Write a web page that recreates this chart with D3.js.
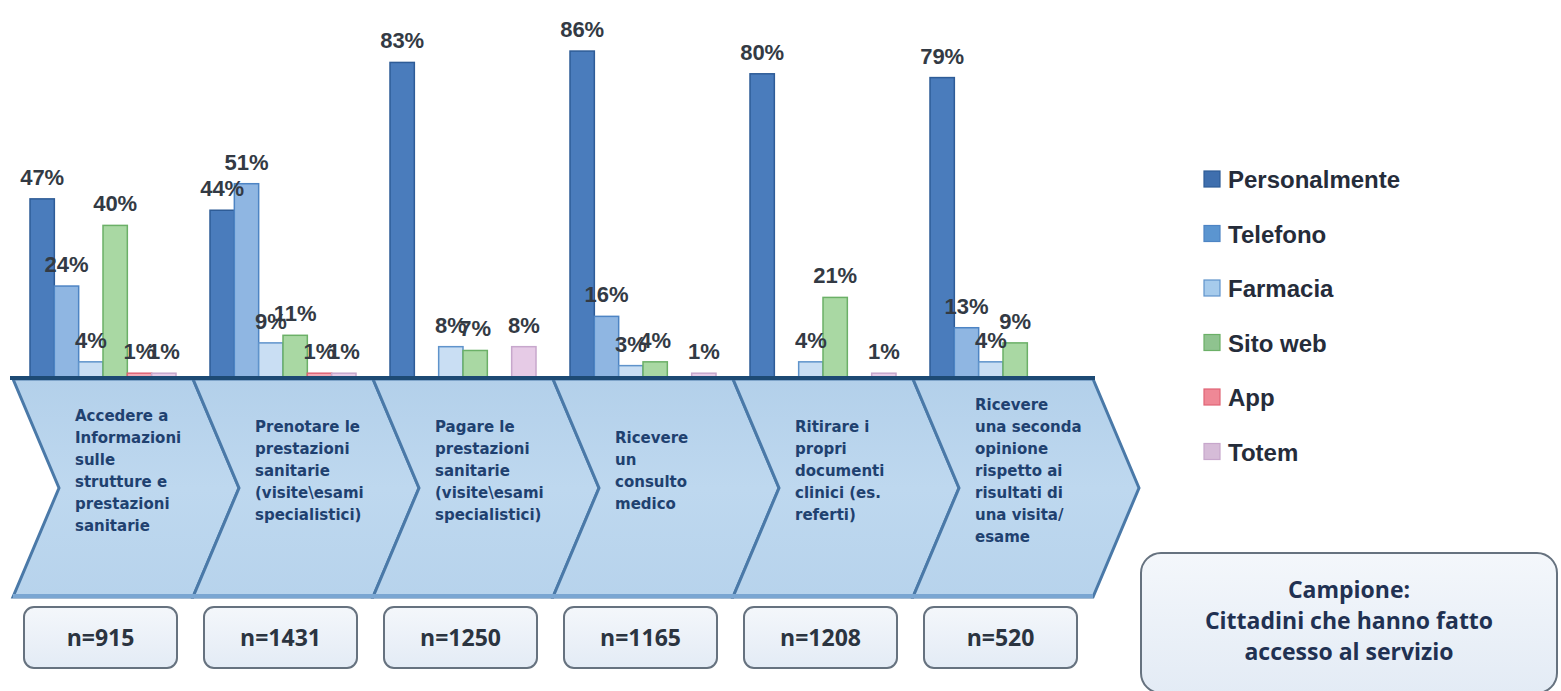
<!DOCTYPE html>
<html><head><meta charset="utf-8">
<script src="https://cdn.jsdelivr.net/npm/d3@7"></script>
<style>html,body{margin:0;padding:0;background:#fff;}svg{display:block;}</style>
</head><body>
<svg id="chart" width="1561" height="691"></svg>
<script>
// ---- data ----
const categories = ["Informazioni", "Prenotare", "Pagare", "Consulto", "Documenti", "Seconda opinione"];
const categoryLines = [
  ["Accedere a", "Informazioni", "sulle", "strutture e", "prestazioni", "sanitarie"],
  ["Prenotare le", "prestazioni", "sanitarie", "(visite\\esami", "specialistici)"],
  ["Pagare le", "prestazioni", "sanitarie", "(visite\\esami", "specialistici)"],
  ["Ricevere", "un", "consulto", "medico"],
  ["Ritirare i", "propri", "documenti", "clinici (es.", "referti)"],
  ["Ricevere", "una seconda", "opinione", "rispetto ai", "risultati di", "una visita/", "esame"]
];
const sampleSizes = ["n=915", "n=1431", "n=1250", "n=1165", "n=1208", "n=520"];
const seriesNames = ["Personalmente", "Telefono", "Farmacia", "Sito web", "App", "Totem"];
const personalmente = [47, 44, 83, 86, 80, 79];
const telefono      = [24, 51, null, 16, null, 13];
const farmacia      = [4, 9, 8, 3, 4, 4];
const sitoWeb       = [40, 11, 7, 4, 21, 9];
const app           = [1, 1, null, null, null, null];
const totem         = [1, 1, 8, 1, 1, null];
const campioneLines = ["Campione:", "Cittadini che hanno fatto", "accesso al servizio"];

const seriesValues = [personalmente, telefono, farmacia, sitoWeb, app, totem];
const fills   = ["#4a7cbc", "#8fb6e2", "#c9def3", "#a9d8a3", "#f3a9b4", "#e6cbe6"];
const strokes = ["#2e5c97", "#4d84c4", "#5f93cb", "#6bb067", "#e06476", "#c7a7cc"];
const legendFills = ["#3f6fae", "#5b95d0", "#a6cbec", "#8fc38f", "#ef8896", "#d6bcd8"];

// ---- layout ----
const svg = d3.select("#chart");
svg.append("rect").attr("width", 1561).attr("height", 691).attr("fill", "#ffffff");

const x0 = d3.scaleBand().domain(categories).range([30, 30 + 180 * 6]).padding(0);
const x1 = d3.scaleBand().domain(seriesNames).range([0, 146]).padding(0);
const y = d3.scaleLinear().domain([0, 100]).range([377, -2]);

const chevTop = 379, chevBot = 597, chevMid = (chevTop + chevBot) / 2, depth = 46;
const chevX = d3.scaleBand().domain(categories).range([13, 13 + 180 * 6]).padding(0);

const defs = svg.append("defs");
const grad = defs.append("linearGradient").attr("id", "chevGrad").attr("x1", 0).attr("y1", 0).attr("x2", 0).attr("y2", 1);
grad.append("stop").attr("offset", "0%").attr("stop-color", "#b3d0ea");
grad.append("stop").attr("offset", "50%").attr("stop-color", "#bed8ef");
grad.append("stop").attr("offset", "100%").attr("stop-color", "#b7d3ec");

const boxGrad = defs.append("linearGradient").attr("id", "boxGrad").attr("x1", 0).attr("y1", 0).attr("x2", 0).attr("y2", 1);
boxGrad.append("stop").attr("offset", "0%").attr("stop-color", "#f4f7fb");
boxGrad.append("stop").attr("offset", "100%").attr("stop-color", "#e3ebf5");

const chevG = svg.append("g");
categories.forEach((c, i) => {
  const L = chevX(c), W = chevX.bandwidth();
  const pts = [[L, chevTop], [L + W, chevTop], [L + W + depth, chevMid], [L + W, chevBot], [L, chevBot], [L + depth, chevMid]];
  chevG.append("path")
    .attr("d", "M" + pts.map(p => p.join(",")).join("L") + "Z")
    .attr("fill", "url(#chevGrad)")
    .attr("stroke", "#4a79a8").attr("stroke-width", 3).attr("stroke-linejoin", "miter");
});
chevG.append("line").attr("x1", 13).attr("x2", 13 + 180 * 6).attr("y1", chevBot - 1).attr("y2", chevBot - 1)
  .attr("stroke", "#7aa6d2").attr("stroke-width", 4);

// chevron texts, vertically centred on the band
categories.forEach((c, i) => {
  const L = chevX(c);
  const lines = categoryLines[i];
  const lh = 22;
  const centre = 471;
  const startY = centre - (lines.length - 1) * lh / 2;
  const t = chevG.append("text")
    .attr("font-family", "DejaVu Sans, Verdana, sans-serif")
    .attr("font-weight", "bold")
    .attr("font-size", 15)
    .attr("fill", "#1f4170");
  lines.forEach((ln, j) => {
    t.append("tspan").attr("x", L + 62).attr("y", startY + j * lh + 5).text(ln);
  });
});

// bars
const barG = svg.append("g");
seriesNames.forEach((s, si) => {
  const vals = seriesValues[si];
  categories.forEach((c, ci) => {
    const v = vals[ci];
    if (v === null) return;
    barG.append("rect")
      .attr("x", x0(c) + x1(s))
      .attr("y", y(v))
      .attr("width", x1.bandwidth())
      .attr("height", y(0) - y(v))
      .attr("fill", fills[si])
      .attr("stroke", strokes[si])
      .attr("stroke-width", 1.5);
  });
});
// value labels
seriesNames.forEach((s, si) => {
  const vals = seriesValues[si];
  categories.forEach((c, ci) => {
    const v = vals[ci];
    if (v === null) return;
    barG.append("text")
      .attr("x", x0(c) + x1(s) + x1.bandwidth() / 2)
      .attr("y", y(v) - 14)
      .attr("text-anchor", "middle")
      .attr("font-family", "Liberation Sans, Arial, sans-serif")
      .attr("font-weight", "bold")
      .attr("font-size", 22)
      .attr("fill", "#333a44")
      .text(v + "%");
  });
});

// baseline
svg.append("line").attr("x1", 10).attr("x2", 1095).attr("y1", y(0) + 1).attr("y2", y(0) + 1)
  .attr("stroke", "#1d4a74").attr("stroke-width", 4);

// sample size boxes
categories.forEach((c, i) => {
  const L = chevX(c);
  svg.append("rect").attr("x", L + 11).attr("y", 607).attr("width", 153).attr("height", 61).attr("rx", 10)
    .attr("fill", "url(#boxGrad)").attr("stroke", "#66727f").attr("stroke-width", 2);
  svg.append("text").attr("x", L + 11 + 76.5).attr("y", 646).attr("text-anchor", "middle")
    .attr("font-family", "Open Sans, sans-serif").attr("font-weight", "bold").attr("font-size", 23)
    .attr("fill", "#2b3440").text(sampleSizes[i]);
});

// campione box
svg.append("rect").attr("x", 1141).attr("y", 553).attr("width", 416).attr("height", 140).attr("rx", 20)
  .attr("fill", "url(#boxGrad)").attr("stroke", "#66727f").attr("stroke-width", 2);
const ct = svg.append("text").attr("text-anchor", "middle")
  .attr("font-family", "Open Sans, sans-serif").attr("font-weight", "bold").attr("font-size", 23)
  .attr("fill", "#213152");
campioneLines.forEach((ln, j) => {
  ct.append("tspan").attr("x", 1349).attr("y", 598 + j * 31).text(ln);
});

// legend
const lg = svg.append("g");
seriesNames.forEach((s, i) => {
  const ly = 180 + i * 54.5;
  lg.append("rect").attr("x", 1204).attr("y", ly - 9).attr("width", 16).attr("height", 16)
    .attr("fill", legendFills[i]).attr("stroke", strokes[i]).attr("stroke-width", 1.2);
  lg.append("text").attr("x", 1228).attr("y", ly + 8)
    .attr("font-family", "Liberation Sans, Arial, sans-serif").attr("font-weight", "bold").attr("font-size", 24)
    .attr("fill", "#252c3a").text(s);
});
</script>
</body></html>
